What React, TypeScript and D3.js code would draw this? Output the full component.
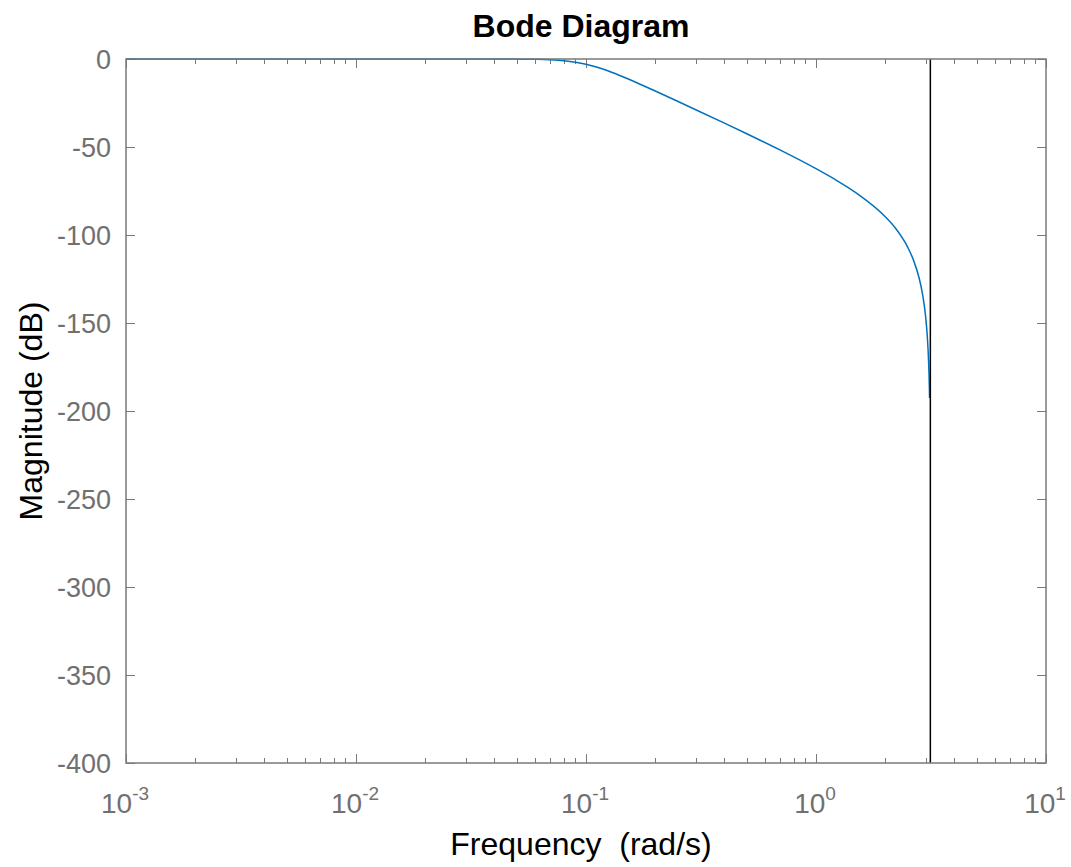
import { useEffect, useRef } from 'react';
import * as d3 from 'd3';

// magnitude, frequency in rad/s
const freqs = [0.001, 0.01, 0.02, 0.03, 0.04, 0.05, 0.06, 0.07, 0.08, 0.09, 0.1, 0.11, 0.12, 0.13, 0.15, 0.17, 0.2, 0.25, 0.3, 0.4, 0.5, 0.7, 1, 1.2, 1.5, 2, 2.2, 2.5, 2.65, 2.8, 2.9, 3.0, 3.05, 3.08, 3.1, 3.11, 3.117];
const magDb = [0, 0, 0, -0.004, -0.018, -0.067, -0.197, -0.48, -1.01, -1.85, -3.01, -4.43, -6.01, -7.67, -10.96, -14.04, -18.19, -24.01, -28.81, -36.45, -42.47, -51.78, -62.29, -68.15, -76.19, -89.58, -95.64, -106.75, -114.07, -123.84, -132.99, -147.0, -158.37, -168.72, -178.96, -186.12, -192.65];
const yTicks = [0, -50, -100, -150, -200, -250, -300, -350, -400];
const xDecades = [-3, -2, -1, 0, 1];
const nyquist = Math.PI;

export default function App() {
    const ref = useRef<SVGSVGElement>(null);

    useEffect(() => {
        const width = 1071;
        const height = 867;
        const margin = { top: 59, right: 25, bottom: 104, left: 126 };
        const tickColor = '#707070';
        const axisColor = '#7a7a7a';
        const font = '"Liberation Sans", Arial, sans-serif';

        const svg = d3.select(ref.current);
        svg.selectAll('*').remove();

        const x = d3.scaleLog()
            .domain([1e-3, 10])
            .range([margin.left, width - margin.right]);
        const y = d3.scaleLinear()
            .domain([-400, 0])
            .range([height - margin.bottom, margin.top]);

        const [x0, x1] = x.range();
        const [y0, y1] = [y(0), y(-400)];
        const cx = (x0 + x1) / 2 - 5;

        svg.append('rect')
            .attr('width', width)
            .attr('height', height)
            .attr('fill', '#fff');

        // ticks, x (bottom and top)
        const ticks = x.ticks();
        const isMajor = (t: number) => Math.abs(Math.log10(t) - Math.round(Math.log10(t))) < 1e-9;
        const tg = svg.append('g').attr('stroke', axisColor).attr('stroke-width', 1);
        ticks.forEach(t => {
            const len = isMajor(t) ? 9 : 5;
            const px = Math.round(x(t)) + 0.5;
            tg.append('line').attr('x1', px).attr('x2', px).attr('y1', y1).attr('y2', y1 - len);
            tg.append('line').attr('x1', px).attr('x2', px).attr('y1', y0).attr('y2', y0 + len);
        });
        yTicks.forEach(t => {
            const py = Math.round(y(t)) + 0.5;
            tg.append('line').attr('x1', x0).attr('x2', x0 + 9).attr('y1', py).attr('y2', py);
            tg.append('line').attr('x1', x1).attr('x2', x1 - 9).attr('y1', py).attr('y2', py);
        });

        // the curve
        const line = d3.line<number>()
            .x((_, i) => x(freqs[i]))
            .y(d => y(d))
            .curve(d3.curveMonotoneX);
        svg.append('path')
            .datum(magDb)
            .attr('d', line)
            .attr('fill', 'none')
            .attr('stroke', '#0072BD')
            .attr('stroke-width', 1.5);

        // Nyquist frequency
        svg.append('line')
            .attr('x1', x(nyquist)).attr('x2', x(nyquist))
            .attr('y1', y0).attr('y2', y1)
            .attr('stroke', '#000')
            .attr('stroke-width', 1.5);

        // box
        svg.append('rect')
            .attr('x', x0)
            .attr('y', y0)
            .attr('width', x1 - x0)
            .attr('height', y1 - y0)
            .attr('fill', 'none')
            .attr('stroke', axisColor)
            .attr('stroke-width', 1.5);

        // y tick labels
        svg.append('g')
            .selectAll('text')
            .data(yTicks)
            .enter()
            .append('text')
            .attr('x', x0 - 15)
            .attr('y', d => y(d) + 10)
            .attr('text-anchor', 'end')
            .attr('font-family', font)
            .attr('font-size', 27)
            .attr('fill', tickColor)
            .text(d => String(d));

        // x tick labels
        const xl = svg.append('g')
            .selectAll('text')
            .data(xDecades)
            .enter()
            .append('text')
            .attr('x', d => x(Math.pow(10, d)) - 1)
            .attr('y', y1 + 50)
            .attr('text-anchor', 'middle')
            .attr('font-family', font)
            .attr('font-size', 28)
            .attr('fill', tickColor);
        xl.append('tspan').text('10');
        xl.append('tspan')
            .attr('dy', -13)
            .attr('font-size', 19)
            .text(d => String(d));

        svg.append('text')
            .attr('x', cx)
            .attr('y', 37)
            .attr('text-anchor', 'middle')
            .attr('font-family', font)
            .attr('font-size', 32)
            .attr('font-weight', 'bold')
            .attr('fill', '#000')
            .text('Bode Diagram');

        svg.append('text')
            .attr('x', cx)
            .attr('y', 855)
            .attr('text-anchor', 'middle')
            .attr('font-family', font)
            .attr('font-size', 32)
            .attr('fill', '#000')
            .style('white-space', 'pre')
            .text('Frequency  (rad/s)');

        svg.append('text')
            .attr('transform', `translate(42,${(y0 + y1) / 2}) rotate(-90)`)
            .attr('text-anchor', 'middle')
            .attr('font-family', font)
            .attr('font-size', 32)
            .attr('fill', '#000')
            .text('Magnitude (dB)');
    }, []);

    return (
        <svg
            ref={ref}
            width={1071}
            height={867}
            style={{ position: 'absolute', left: 0, top: 0 }}
        />
    );
}
